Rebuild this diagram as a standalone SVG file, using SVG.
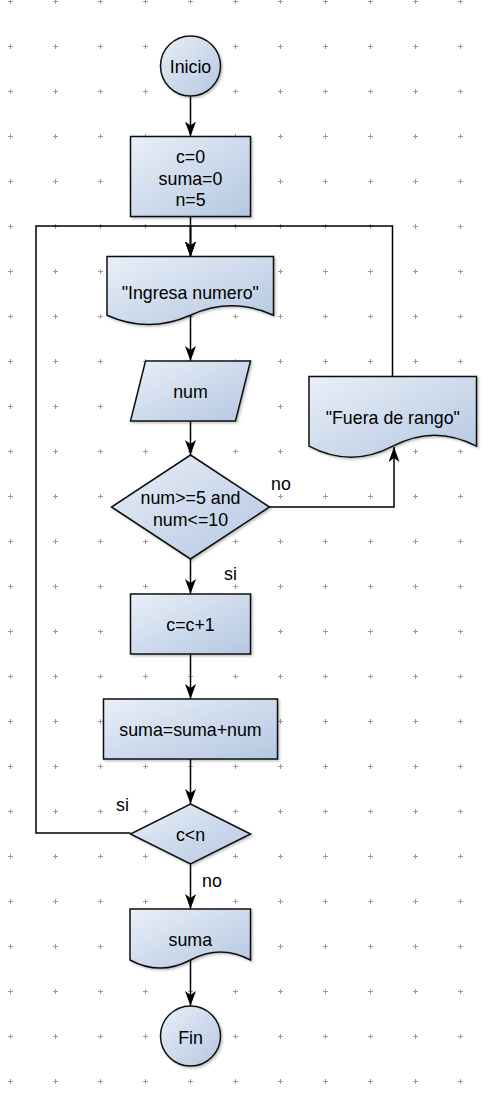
<svg xmlns="http://www.w3.org/2000/svg" width="498" height="1095" viewBox="0 0 498 1095">
<style>
.node{stroke:#111;stroke-width:1.5;fill:url(#grad);filter:url(#sh)}
.edge{fill:none;stroke:#000;stroke-width:1.5}
.arr{marker-end:url(#arrow)}
text{font-family:"Liberation Sans",Arial,sans-serif;font-size:17.8px;fill:#000}
.c{text-anchor:middle}
</style>
<defs>
<linearGradient id="grad" x1="0" y1="0" x2="1" y2="1">
<stop offset="0" stop-color="#e9eff8"/>
<stop offset="1" stop-color="#b4c7e1"/>
</linearGradient>
<filter id="sh" x="-10%" y="-10%" width="130%" height="130%">
<feDropShadow dx="1.5" dy="1.5" stdDeviation="0.8" flood-color="#000" flood-opacity="0.25"/>
</filter>
<pattern id="grid" patternUnits="userSpaceOnUse" x="-12" y="24" width="45" height="45">
<path d="M20,22.5H25M22.5,20V25" stroke="#9a9a9a" stroke-width="1" fill="none"/>
</pattern>
<marker id="arrow" markerUnits="userSpaceOnUse" viewBox="0 0 15 11" refX="15" refY="5.5" markerWidth="15" markerHeight="11" orient="auto">
<path d="M0,0L15,5.5L0,11L4,5.5Z" fill="#000"/>
</marker>
</defs>
<rect width="498" height="1095" fill="#fff"/>
<rect width="498" height="1095" fill="url(#grid)"/>
<g id="connectors">
<path class="edge arr" d="M190.5,96V136.5"/>
<path class="edge arr" d="M190.5,216.5V256.5"/>
<path class="edge arr" d="M130.5,833H36V226H190.5V256.5"/>
<path class="edge arr" d="M392.5,376.5V226H190.5V256.5"/>
<path class="edge arr" d="M190.5,315V361"/>
<path class="edge arr" d="M190.5,421V455"/>
<path class="edge arr" d="M269.5,507H394V447"/>
<path class="edge arr" d="M190.5,559V594"/>
<path class="edge arr" d="M190.5,654V699"/>
<path class="edge arr" d="M190.5,759V804"/>
<path class="edge arr" d="M190.5,864V909"/>
<path class="edge arr" d="M190.5,960V1006"/>
<text x="271" y="490">no</text>
<text x="224" y="580">si</text>
<text x="116" y="811">si</text>
<text x="202" y="887">no</text>
</g>
<g id="inicio">
<circle class="node" cx="190.5" cy="66" r="30"/>
<text class="c" x="190.5" y="72.5">Inicio</text>
</g>
<g id="init">
<rect class="node" x="130.5" y="136.5" width="120" height="80"/>
<text class="c" x="190.5" y="163">c=0</text>
<text class="c" x="190.5" y="184.5">suma=0</text>
<text class="c" x="190.5" y="206">n=5</text>
</g>
<g id="ingresa">
<path class="node" d="M107,256.5H273.5V315.2Q231.9,296.5 190.3,315.2Q148.6,333.8 107,315.2Z"/>
<text class="c" x="190.3" y="298.5">"Ingresa numero"</text>
</g>
<g id="num">
<path class="node" d="M145.5,361H250.5L235.5,421H130.5Z"/>
<text class="c" x="190.5" y="398">num</text>
</g>
<g id="cond">
<path class="node" d="M190.5,455L269.5,507L190.5,559L111.5,507Z"/>
<text class="c" x="190.5" y="504">num&gt;=5 and</text>
<text class="c" x="190.5" y="526">num&lt;=10</text>
</g>
<g id="fuera">
<path class="node" d="M309,376.5H476.5V446.2Q434.6,424.1 392.8,446.2Q350.9,468.3 309,446.2Z"/>
<text class="c" x="392.8" y="424">"Fuera de rango"</text>
</g>
<g id="inc">
<rect class="node" x="130.5" y="594" width="120" height="60"/>
<text class="c" x="190.5" y="631">c=c+1</text>
</g>
<g id="acum">
<rect class="node" x="103.5" y="699" width="174" height="60"/>
<text class="c" x="190.5" y="736">suma=suma+num</text>
</g>
<g id="loopcond">
<path class="node" d="M190.5,804L250.5,834L190.5,864L130.5,834Z"/>
<text class="c" x="190.5" y="841">c&lt;n</text>
</g>
<g id="salida">
<path class="node" d="M130,909H250.5V960Q220.4,943.8 190.3,960Q160.1,976.2 130,960Z"/>
<text class="c" x="190.3" y="946">suma</text>
</g>
<g id="fin">
<circle class="node" cx="190.5" cy="1036" r="30"/>
<text class="c" x="190.5" y="1044">Fin</text>
</g>
</svg>
